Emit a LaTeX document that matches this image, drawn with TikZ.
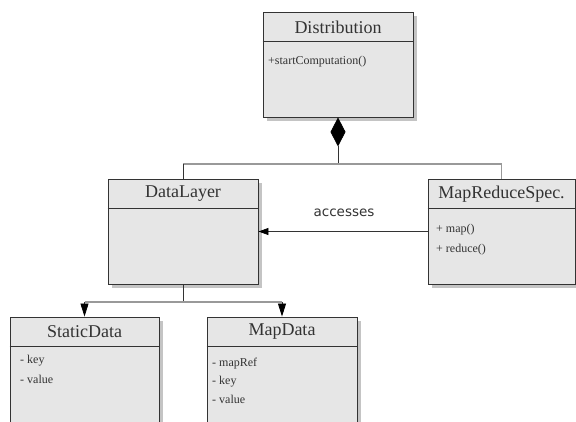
\documentclass[tikz,border=0pt]{standalone}
\usepackage{fontspec}
\setmainfont{Liberation Serif}
\newfontfamily\labelfont{DejaVu Sans}
\usetikzlibrary{arrows.meta,shadows}
\definecolor{boxfill}{HTML}{E6E6E6}
\definecolor{edge}{HTML}{333333}
\definecolor{shade}{HTML}{C4C4C4}
\definecolor{busgray}{HTML}{999999}
\definecolor{ink}{HTML}{333333}
\tikzset{
  umlclass/.style={draw=edge, fill=boxfill, line width=0.9pt, inner sep=0pt,
    drop shadow={shadow xshift=4pt, shadow yshift=-4pt, fill=shade, opacity=1}},
  classtitle/.style={font=\fontsize{18}{20}\selectfont, text=ink, inner sep=0pt},
  member/.style={font=\fontsize{12}{14}\selectfont, text=ink, anchor=west, inner sep=0pt},
  link/.style={draw=edge, line width=0.8pt},
  bus/.style={draw=busgray, line width=1.5pt},
  headline/.style={draw=edge, line width=0.8pt}
}
\begin{document}
\begin{tikzpicture}[x=1pt,y=-1pt]
\clip (0,0) rectangle (576,421);
\fill[white] (0,0) rectangle (576,421);

% junction levels of the two connector buses
\coordinate (busTop) at (0,164);
\coordinate (busBot) at (0,302);

% class boxes
\node[umlclass, minimum width=150pt, minimum height=105pt] (dist) at (338,64.5) {};
\node[umlclass, minimum width=150pt, minimum height=105pt] (dl) at (183,231.5) {};
\node[umlclass, minimum width=147pt, minimum height=105pt] (mr) at (501.5,231.5) {};
\node[umlclass, minimum width=149pt, minimum height=160pt] (sd) at (84.5,397) {};
\node[umlclass, minimum width=150pt, minimum height=160pt] (md) at (282,397) {};

% header separators
\foreach \c in {dist,dl,mr,sd,md}
  \draw[headline] ([yshift=-30pt]\c.north west) -- ([yshift=-30pt]\c.north east);

% class names
\node[classtitle] (distT) at (338,27) {Distribution};
\node[classtitle] (dlT) at (183,194) {DataLayer};
\node[classtitle] (mrT) at (501.5,194) {MapReduceSpec.};
\node[classtitle] (sdT) at (84.5,332) {StaticData};
\node[classtitle] (mdT) at (282,332) {MapData};

% members
\node[member] (distM1) at (268,62) {+startComputation()};
\node[member] (mrM1) at (436,230) {+ map()};
\node[member] (mrM2) at (436,250) {+ reduce()};
\node[member] (sdM1) at (20,361) {- key};
\node[member] (sdM2) at (20,379) {- value};
\node[member] (mdM1) at (212,364) {- mapRef};
\node[member] (mdM2) at (212,382) {- key};
\node[member] (mdM3) at (212,399) {- value};

% composition from Distribution
\draw[link, {Diamond[length=29pt,width=15pt,color=black,fill=black]}-] (dist.south) -- (dist.south |- busTop);
\draw[bus] (dl.north |- busTop) -- (mr.north |- busTop);
\draw[link] (dl.north |- busTop) -- (dl.north);
\draw[bus] (mr.north |- busTop) -- (mr.north);

% MapReduceSpec accesses DataLayer
\draw[link, -{Triangle[length=10pt,width=7pt,color=black]}] (mr.west) -- (dl.east);
\node[font=\labelfont\fontsize{13.5}{15}\selectfont, text=ink, inner sep=0pt] (acc) at (344,213) {accesses};

% DataLayer down to its data classes
\draw[link] (dl.south) -- (dl.south |- busBot);
\draw[bus] (sd.north |- busBot) -- (md.north |- busBot);
\draw[link, -{Triangle[length=13pt,width=8pt,color=black]}] (sd.north |- busBot) -- (sd.north);
\draw[link, -{Triangle[length=13pt,width=8pt,color=black]}] (md.north |- busBot) -- (md.north);
\end{tikzpicture}
\end{document}
